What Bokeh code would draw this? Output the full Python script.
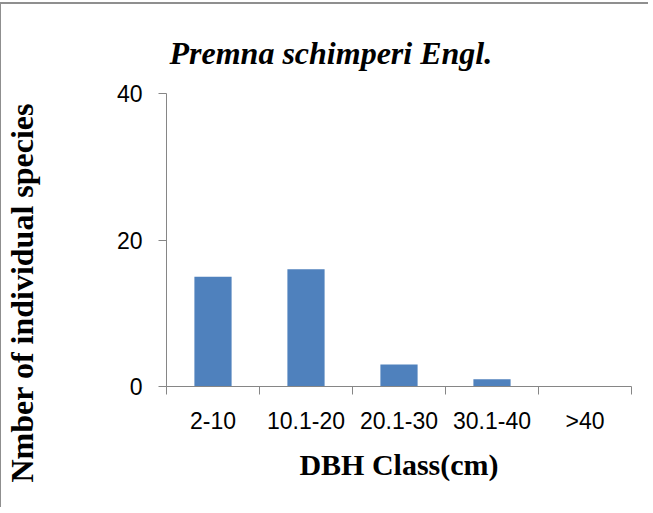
from bokeh.plotting import figure
from bokeh.models import FixedTicker, ColumnDataSource, Range1d, Title
from bokeh.embed import file_html
from bokeh.resources import INLINE

categories = ["2-10", "10.1-20", "20.1-30", "30.1-40", ">40"]
counts = [15, 16, 3, 1, 0]
y_ticks = [0, 20, 40]

xpos = [i + 0.5 for i in range(len(categories))]
src = ColumnDataSource(dict(x=xpos, top=counts, cat=categories))

p = figure(width=648, height=505, output_backend="svg", toolbar_location=None,
           x_range=Range1d(0, len(categories)), y_range=Range1d(0, 40),
           min_border_left=165, min_border_right=18, min_border_top=89, min_border_bottom=123,
           styles={"border-top": "2px solid #8f8f8f", "border-left": "1px solid #8f8f8f",
                   "margin-top": "2px"})

p.vbar(x="x", top="top", width=0.4, source=src, fill_color="#4F81BD", line_color=None)

p.title.text = "Premna schimperi Engl."
p.title.align = "left"
p.title.offset = 3
p.title.text_font = "Liberation Serif"
p.title.text_font_style = "bold italic"
p.title.text_font_size = "32px"
p.title.text_color = "black"
p.title.standoff = 46

# blank spacer between the y axis and its title
spacer = Title(text=" ", text_font_size="2px", standoff=70)
p.add_layout(spacer, "left")

ytitle = Title(text="Nmber of individual species", align="left", offset=-96,
               text_font="Liberation Serif", text_font_style="bold",
               text_font_size="32px", text_color="black", standoff=0)
p.add_layout(ytitle, "left")

p.xgrid.visible = False
p.ygrid.visible = False
p.outline_line_color = None
p.background_fill_color = "white"
p.border_fill_color = "white"

xa = p.xaxis[0]
xa.ticker = FixedTicker(ticks=xpos, minor_ticks=list(range(len(categories) + 1)))
xa.major_label_overrides = {x: c for x, c in zip(xpos, categories)}
xa.major_tick_out = 0
xa.major_tick_in = 0
xa.minor_tick_out = 8
xa.minor_tick_in = 0
xa.minor_tick_line_color = "#868686"
xa.axis_line_color = "#868686"
xa.major_label_text_font = "Liberation Sans"
xa.major_label_text_font_size = "23px"
xa.major_label_text_color = "black"
xa.major_label_standoff = 13
xa.axis_label = "DBH Class(cm)"
xa.axis_label_text_font = "Liberation Serif"
xa.axis_label_text_font_style = "bold"
xa.axis_label_text_font_size = "30px"
xa.axis_label_text_color = "black"
xa.axis_label_standoff = 11

ya = p.yaxis[0]
ya.ticker = FixedTicker(ticks=y_ticks)
ya.major_tick_out = 8
ya.major_tick_in = 0
ya.minor_tick_out = 0
ya.minor_tick_in = 0
ya.major_tick_line_color = "#868686"
ya.axis_line_color = "#868686"
ya.major_label_text_font = "Liberation Sans"
ya.major_label_text_font_size = "23px"
ya.major_label_text_color = "black"
ya.major_label_standoff = 16

open("out.html", "w").write(file_html(p, INLINE))
